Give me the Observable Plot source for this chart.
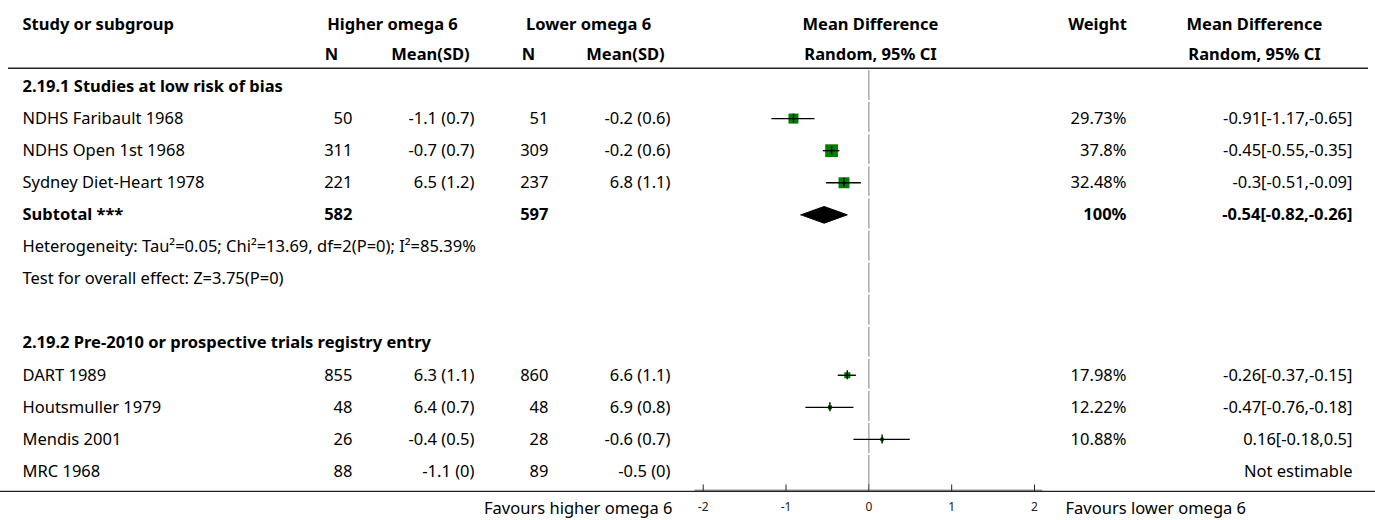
<!DOCTYPE html>
<html>
<head>
<meta charset="utf-8">
<script src="https://cdn.jsdelivr.net/npm/d3@7"></script>
<script src="https://cdn.jsdelivr.net/npm/@observablehq/plot@0.6"></script>
<style>
  html, body { margin: 0; padding: 0; background: #fff; }
  #chart svg { display: block; }
</style>
</head>
<body>
<div id="chart"></div>
<script>
// ---- data ----
const studies   = ["NDHS Faribault 1968", "NDHS Open 1st 1968", "Sydney Diet-Heart 1978", "DART 1989", "Houtsmuller 1979", "Mendis 2001", "MRC 1968"];
const studyRows = [1, 2, 3, 9, 10, 11, 12];
const nHigh     = [50, 311, 221, 855, 48, 26, 88];
const meanHigh  = [-1.1, -0.7, 6.5, 6.3, 6.4, -0.4, -1.1];
const sdHigh    = [0.7, 0.7, 1.2, 1.1, 0.7, 0.5, 0];
const nLow      = [51, 309, 237, 860, 48, 28, 89];
const meanLow   = [-0.2, -0.2, 6.8, 6.6, 6.9, -0.6, -0.5];
const sdLow     = [0.6, 0.6, 1.1, 1.1, 0.8, 0.7, 0];
const md        = [-0.91, -0.45, -0.3, -0.26, -0.47, 0.16, null];
const ciLow     = [-1.17, -0.55, -0.51, -0.37, -0.76, -0.18, null];
const ciHigh    = [-0.65, -0.35, -0.09, -0.15, -0.18, 0.5, null];
const weights   = [29.73, 37.8, 32.48, 17.98, 12.22, 10.88, null];

const groupTitles = ["2.19.1 Studies at low risk of bias", "2.19.2 Pre-2010 or prospective trials registry entry"];
const groupRows   = [0, 8];

const subtotal = {row: 4, label: "Subtotal ***", nHigh: 582, nLow: 597, weight: 100, md: -0.54, lo: -0.82, hi: -0.26};
const statLines = ["Heterogeneity: Tau\u00B2=0.05; Chi\u00B2=13.69, df=2(P=0); I\u00B2=85.39%", "Test for overall effect: Z=3.75(P=0)"];
const statRows  = [5, 6];

const xTicks = [-2, -1, 0, 1, 2];
const leftLabel = "Favours higher omega 6";
const rightLabel = "Favours lower omega 6";

// ---- table ----
const rows = studies.map((s, i) => ({
  study: s, row: studyRows[i],
  nHigh: nHigh[i], msdHigh: `${meanHigh[i]} (${sdHigh[i]})`,
  nLow: nLow[i], msdLow: `${meanLow[i]} (${sdLow[i]})`,
  md: md[i], lo: ciLow[i], hi: ciHigh[i], w: weights[i],
  wLabel: weights[i] == null ? "" : `${weights[i]}%`,
  mdLabel: md[i] == null ? "Not estimable" : `${md[i]}[${ciLow[i]},${ciHigh[i]}]`
}));
const est = rows.filter(d => d.md != null);
const allRows = d3.range(0, 13);

// layout (pixel columns)
const col = {study: 22, nHigh: 352, msdHigh: 474, nLow: 548, msdLow: 670, weight: 1126, mdText: 1352,
             hNHigh: 331, hMsdHigh: 430, hNLow: 528, hMsdLow: 625, hGroupHigh: 392, hGroupLow: 588,
             hMD: 870, hWeight: 1097, hMDText: 1254};
const hdr1 = -1.94, hdr2 = -1.0, hdrLine = -0.57, axisRow = 12.62;
const font = "'Noto Sans', sans-serif";
const fs = 16.5;

const T = (data, opts) => Plot.text(data, {frameAnchor: "left", fontSize: fs, fill: "#000", ...opts});

const diamond = [
  {x: subtotal.lo, y: subtotal.row},
  {x: subtotal.md, y: subtotal.row - 0.26},
  {x: subtotal.hi, y: subtotal.row},
  {x: subtotal.md, y: subtotal.row + 0.26},
  {x: subtotal.lo, y: subtotal.row}
];

const chart = Plot.plot({
  width: 1375, height: 520,
  marginLeft: 0, marginRight: 0, marginTop: 0, marginBottom: 29,
  style: {fontFamily: font, background: "#fff", overflow: "visible"},
  x: {domain: [-2, 2], range: [702.7, 1034], axis: null},
  y: {domain: [0, 12], range: [86, 471], axis: null},
  r: {type: "linear", domain: [0, 37.8], range: [0, 7.2]},
  marks: [
    // header rule and bottom rules
    Plot.ruleY([hdrLine], {stroke: "#222", strokeWidth: 1.6, insetLeft: 8, insetRight: 7}),
    Plot.ruleY([axisRow], {x1: -2.1, x2: 2.1, stroke: "#999", strokeWidth: 2, dy: -1}),
    Plot.ruleY([axisRow], {stroke: "#222", strokeWidth: 1.2}),
    // zero line, one segment per row
    Plot.ruleX(allRows, {x: () => 0, y1: d => d - 0.5, y2: d => d + 0.44, stroke: "#999", strokeWidth: 1.2}),
    // axis ticks
    Plot.ruleX(xTicks, {x: d => d, y1: axisRow - 0.2, y2: axisRow, stroke: "#222", strokeWidth: 1}),
    Plot.axisX(xTicks, {anchor: "bottom", tickSize: 0, tickPadding: 11, fontSize: 12, fill: "#222", label: null, tickFormat: d => String(d)}),
    // squares
    Plot.dot(est, {x: "md", y: "row", r: "w", symbol: "square", fill: "#008000", stroke: "none"}),
    // CI lines
    Plot.ruleY(est, {y: "row", x1: "lo", x2: "hi", stroke: "#000", strokeWidth: 1.4}),
    Plot.ruleX(est, {x: "md", y1: d => d.row - 0.14, y2: d => d.row + 0.14, stroke: "#000", strokeWidth: 1.4}),
    // diamond
    Plot.line(diamond, {x: "x", y: "y", fill: "#000", stroke: "#000", strokeWidth: 1}),
    // headers
    T(["Study or subgroup"], {y: () => hdr1, dx: col.study, fontWeight: "bold", textAnchor: "start"}),
    T(["Higher omega 6"], {y: () => hdr1, dx: col.hGroupHigh, fontWeight: "bold", textAnchor: "middle"}),
    T(["Lower omega 6"], {y: () => hdr1, dx: col.hGroupLow, fontWeight: "bold", textAnchor: "middle"}),
    T(["Mean Difference"], {y: () => hdr1, dx: col.hMD, fontWeight: "bold", textAnchor: "middle"}),
    T(["Weight"], {y: () => hdr1, dx: col.hWeight, fontWeight: "bold", textAnchor: "middle"}),
    T(["Mean Difference"], {y: () => hdr1, dx: col.hMDText, fontWeight: "bold", textAnchor: "middle"}),
    T(["N"], {y: () => hdr2, dx: col.hNHigh, fontWeight: "bold", textAnchor: "middle"}),
    T(["Mean(SD)"], {y: () => hdr2, dx: col.hMsdHigh, fontWeight: "bold", textAnchor: "middle"}),
    T(["N"], {y: () => hdr2, dx: col.hNLow, fontWeight: "bold", textAnchor: "middle"}),
    T(["Mean(SD)"], {y: () => hdr2, dx: col.hMsdLow, fontWeight: "bold", textAnchor: "middle"}),
    T(["Random, 95% CI"], {y: () => hdr2, dx: col.hMD, fontWeight: "bold", textAnchor: "middle"}),
    T(["Random, 95% CI"], {y: () => hdr2, dx: col.hMDText, fontWeight: "bold", textAnchor: "middle"}),
    // group titles
    T(groupTitles, {y: (d, i) => groupRows[i], dx: col.study, fontWeight: "bold", textAnchor: "start"}),
    // study rows
    T(rows, {y: "row", text: "study", dx: col.study, textAnchor: "start"}),
    T(rows, {y: "row", text: d => String(d.nHigh), dx: col.nHigh, textAnchor: "end"}),
    T(rows, {y: "row", text: "msdHigh", dx: col.msdHigh, textAnchor: "end"}),
    T(rows, {y: "row", text: d => String(d.nLow), dx: col.nLow, textAnchor: "end"}),
    T(rows, {y: "row", text: "msdLow", dx: col.msdLow, textAnchor: "end"}),
    T(rows, {y: "row", text: "wLabel", dx: col.weight, textAnchor: "end"}),
    T(rows, {y: "row", text: "mdLabel", dx: col.mdText, textAnchor: "end"}),
    // subtotal
    T([subtotal], {y: "row", text: "label", dx: col.study, textAnchor: "start", fontWeight: "bold"}),
    T([subtotal], {y: "row", text: d => String(d.nHigh), dx: col.nHigh, textAnchor: "end", fontWeight: "bold"}),
    T([subtotal], {y: "row", text: d => String(d.nLow), dx: col.nLow, textAnchor: "end", fontWeight: "bold"}),
    T([subtotal], {y: "row", text: d => `${d.weight}%`, dx: col.weight, textAnchor: "end", fontWeight: "bold"}),
    T([subtotal], {y: "row", text: d => `${d.md}[${d.lo},${d.hi}]`, dx: col.mdText, textAnchor: "end", fontWeight: "bold"}),
    // stats
    T(statLines, {y: (d, i) => statRows[i], dx: col.study, textAnchor: "start"}),
    // favours labels
    T([leftLabel], {y: () => axisRow + 0.55, dx: 672, textAnchor: "end"}),
    T([rightLabel], {y: () => axisRow + 0.55, dx: 1065, textAnchor: "start"})
  ]
});
document.getElementById("chart").appendChild(chart);
</script>
</body>
</html>
